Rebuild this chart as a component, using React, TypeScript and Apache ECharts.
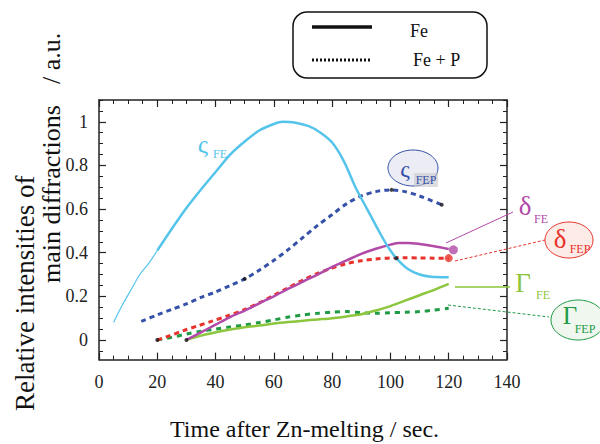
import React, { useEffect, useRef } from "react";
import * as echarts from "echarts";

// ---- data (x: seconds, y: relative intensity) ----
const cyanFEStart: number[][] = [[5, 0.08], [8, 0.16], [11, 0.23], [14, 0.3], [17, 0.35], [20, 0.41]];
const cyanFE: number[][] = [
  [20, 0.41], [25, 0.51], [30, 0.605], [35, 0.69], [40, 0.77], [45, 0.85], [50, 0.91], [55, 0.96],
  [60, 0.99], [63, 1.0], [67, 0.997], [72, 0.98], [76, 0.95], [80, 0.905], [84, 0.82], [88, 0.7],
  [92, 0.6], [96, 0.5], [99, 0.43], [102, 0.375], [106, 0.325], [110, 0.3], [114, 0.29], [120, 0.288],
];
const blueFEP: number[][] = [
  [14.5, 0.085], [20, 0.115], [25, 0.14], [30, 0.165], [35, 0.195], [40, 0.22], [45, 0.25], [50, 0.28],
  [55, 0.32], [60, 0.365], [65, 0.415], [70, 0.47], [75, 0.525], [80, 0.575], [85, 0.625], [90, 0.66],
  [95, 0.68], [100, 0.688], [105, 0.68], [110, 0.66], [117.5, 0.62],
];
const magentaFE: number[][] = [
  [30, 0], [35, 0.035], [40, 0.07], [45, 0.105], [50, 0.135], [55, 0.168], [60, 0.2], [65, 0.235],
  [70, 0.268], [75, 0.3], [80, 0.335], [85, 0.365], [90, 0.395], [95, 0.418], [100, 0.437], [103, 0.445],
  [106, 0.445], [110, 0.44], [115, 0.43], [120, 0.417],
];
const redFEP: number[][] = [
  [20, 0], [24, 0.018], [29, 0.043], [34, 0.065], [38.5, 0.085], [44, 0.11], [50, 0.14], [55, 0.17],
  [60, 0.205], [65, 0.24], [70, 0.275], [75, 0.305], [80, 0.33], [85, 0.35], [90, 0.363], [95, 0.371],
  [100, 0.376], [105, 0.377], [110, 0.376], [115, 0.375], [120, 0.375],
];
const greenFE: number[][] = [
  [30, 0], [35, 0.02], [40, 0.035], [45, 0.048], [50, 0.058], [55, 0.066], [60, 0.075], [65, 0.082],
  [70, 0.088], [75, 0.094], [80, 0.1], [85, 0.108], [90, 0.118], [95, 0.135], [100, 0.155], [105, 0.18],
  [110, 0.205], [115, 0.23], [120, 0.257],
];
const greenFEP: number[][] = [
  [20, 0], [25, 0.012], [30, 0.027], [35, 0.04], [40, 0.05], [45, 0.06], [50, 0.069], [55, 0.08],
  [60, 0.092], [65, 0.105], [70, 0.115], [75, 0.122], [80, 0.128], [85, 0.13], [90, 0.125], [95, 0.122],
  [100, 0.125], [105, 0.127], [110, 0.13], [115, 0.137], [120, 0.145],
];
const blackDots: number[][] = [[20, 0], [30, 0], [50, 0.28], [100.4, 0.688], [117.6, 0.62], [102, 0.375]];
const redEndDot: number[][] = [[120, 0.375]];
const magentaEndDot: number[][] = [[121.6, 0.413]];

const yLabelValues = [0, 0.2, 0.4, 0.6, 0.8, 1];
const yMinorValues = [-0.05, 0, 0.05, 0.1, 0.15, 0.2, 0.25, 0.3, 0.35, 0.4, 0.45, 0.5, 0.55, 0.6, 0.65, 0.7, 0.75, 0.8, 0.85, 0.9, 0.95, 1, 1.05, 1.1];

const SERIF = "Liberation Serif";
const C_CYAN = "#55c4ea";
const C_BLUE = "#3551a8";
const C_MAG = "#b24aa8";
const C_RED = "#e8322b";
const C_LGREEN = "#8cc63e";
const C_DGREEN = "#1f9a45";

function txt(text: string, x: number, y: number, size: number, color: string, align = "center", rotation = 0): any {
  return {
    type: "text",
    x,
    y,
    rotation,
    style: { text, fontFamily: SERIF, fontSize: size, fill: color, textAlign: align, textVerticalAlign: "middle" },
    z: 100,
  };
}

export default function App() {
  const ref = useRef<HTMLDivElement>(null);
  useEffect(() => {
    if (!ref.current) return;
    const chart = echarts.init(ref.current, undefined, { renderer: "svg" });
    const lineSeries = (data: number[][], color: string, width: number, type: any, z = 2) => ({
      type: "line",
      data,
      xAxisIndex: 0,
      yAxisIndex: 0,
      showSymbol: false,
      symbol: "none",
      smooth: 0.3,
      z,
      lineStyle: { color, width, type },
    });
    const yCommon = {
      type: "value",
      min: -0.09,
      max: 1.1,
      splitLine: { show: false },
    };
    const xCommon = {
      type: "value",
      min: 0,
      max: 140,
      interval: 20,
      axisTick: { inside: true, length: 7, lineStyle: { color: "#222", width: 1.2 } },
      minorTick: { show: true, splitNumber: 4, length: 4, lineStyle: { color: "#222", width: 1 } },
      splitLine: { show: false },
    };
    const option: any = {
      animation: false,
      backgroundColor: "#fff",
      textStyle: { fontFamily: SERIF },
      grid: { left: 99, right: 93, top: 100, bottom: 84.4, containLabel: false },
      xAxis: [
        {
          ...xCommon,
          position: "bottom",
          axisLine: { onZero: false, lineStyle: { color: "#222", width: 1.5 } },
          axisLabel: { fontFamily: SERIF, fontSize: 18, color: "#222", margin: 13 },
        },
        {
          ...xCommon,
          position: "top",
          axisLine: { onZero: false, lineStyle: { color: "#222", width: 1.5 } },
          axisLabel: { show: false },
        },
      ],
      yAxis: [
        {
          ...yCommon,
          position: "left",
          axisLine: { show: true, onZero: false, lineStyle: { color: "#222", width: 1.5 } },
          axisTick: { show: true, inside: true, length: 7, customValues: yLabelValues, lineStyle: { color: "#222", width: 1.2 } },
          axisLabel: { customValues: yLabelValues, fontFamily: SERIF, fontSize: 18, color: "#222", margin: 11 },
        },
        {
          ...yCommon,
          position: "right",
          axisLine: { show: true, onZero: false, lineStyle: { color: "#222", width: 1.5 } },
          axisTick: { show: true, inside: true, length: 7, customValues: yLabelValues, lineStyle: { color: "#222", width: 1.2 } },
          axisLabel: { show: false },
        },
        {
          ...yCommon,
          position: "left",
          axisLine: { show: false, onZero: false },
          axisTick: { show: true, inside: true, length: 4, customValues: yMinorValues, lineStyle: { color: "#222", width: 1 } },
          axisLabel: { show: false },
        },
        {
          ...yCommon,
          position: "right",
          axisLine: { show: false, onZero: false },
          axisTick: { show: true, inside: true, length: 4, customValues: yMinorValues, lineStyle: { color: "#222", width: 1 } },
          axisLabel: { show: false },
        },
      ],
      series: [
        lineSeries(greenFEP, C_DGREEN, 3, [5, 5]),
        lineSeries(greenFE, C_LGREEN, 2.5, "solid"),
        lineSeries(redFEP, C_RED, 3, [5, 4]),
        lineSeries(magentaFE, C_MAG, 2.5, "solid"),
        lineSeries(blueFEP, C_BLUE, 3, [5, 4]),
        lineSeries(cyanFEStart, C_CYAN, 1.2, "solid", 3),
        lineSeries(cyanFE, C_CYAN, 2.5, "solid", 3),
        { type: "scatter", data: blackDots, symbolSize: 4, itemStyle: { color: "#111" }, z: 5 },
        { type: "scatter", data: redEndDot, symbolSize: 8, itemStyle: { color: C_RED }, z: 5 },
        { type: "scatter", data: magentaEndDot, symbolSize: 9, itemStyle: { color: C_MAG }, z: 5 },
      ],
      graphic: [
        // legend box
        { type: "rect", shape: { x: 293, y: 12, width: 194, height: 66, r: 14 }, style: { fill: "#fff", stroke: "#111", lineWidth: 1.5 }, z: 90 },
        { type: "line", shape: { x1: 312, y1: 27, x2: 372, y2: 27 }, style: { stroke: "#111", lineWidth: 3.5 }, z: 100 },
        { type: "line", shape: { x1: 312, y1: 60, x2: 372, y2: 60 }, style: { stroke: "#111", lineWidth: 3, lineDash: [2, 2] }, z: 100 },
        txt("Fe", 410, 31, 18, "#111", "left"),
        txt("Fe + P", 413, 60, 18, "#111", "left"),
        // axis titles (anchored at their start, reading bottom to top)
        txt("Relative intensities of", 25, 411, 27, "#111", "left", Math.PI / 2),
        txt("main diffractions", 51, 283, 26, "#111", "left", Math.PI / 2),
        txt("/ a.u.", 51, 84, 26, "#111", "left", Math.PI / 2),
        txt("Time after Zn-melting / sec.", 170, 429, 24, "#111", "left"),
        // zeta FE
        txt("ς", 203, 144, 26, C_CYAN),
        txt("FE", 220, 154, 12, C_CYAN),
        // zeta FEP ellipse
        { type: "ellipse", shape: { cx: 413, cy: 168, rx: 25, ry: 18 }, style: { fill: "rgba(228,230,240,0.75)", stroke: C_BLUE, lineWidth: 1 }, z: 95 },
        { type: "rect", shape: { x: 414, y: 173, width: 24, height: 14 }, style: { fill: "rgba(200,200,205,0.6)" }, z: 96 },
        txt("ς", 405, 169, 24, C_BLUE),
        txt("FEP", 426, 180, 12, C_BLUE),
        // delta FE
        { type: "line", shape: { x1: 446, y1: 243, x2: 513, y2: 212 }, style: { stroke: C_MAG, lineWidth: 1 }, z: 95 },
        txt("δ", 525, 206, 27, C_MAG),
        txt("FE", 541, 219, 12, C_MAG),
        // delta FEP
        { type: "line", shape: { x1: 455, y1: 261, x2: 545, y2: 240 }, style: { stroke: C_RED, lineWidth: 1, lineDash: [3, 2] }, z: 95 },
        { type: "ellipse", shape: { cx: 569, cy: 240, rx: 24, ry: 18 }, style: { fill: "rgba(252,232,226,0.85)", stroke: C_RED, lineWidth: 1 }, z: 95 },
        txt("δ", 560, 239, 27, C_RED),
        txt("FEP", 580, 249, 12, C_RED),
        // Gamma FE
        { type: "line", shape: { x1: 455, y1: 287, x2: 510, y2: 287 }, style: { stroke: C_LGREEN, lineWidth: 1.5 }, z: 95 },
        txt("Γ", 523, 283, 27, C_LGREEN),
        txt("FE", 543, 295, 12, C_LGREEN),
        // Gamma FEP
        { type: "polyline", shape: { points: [[448, 305], [507, 312], [549, 317]] }, style: { stroke: C_DGREEN, lineWidth: 1, lineDash: [3, 2], fill: "none" }, z: 95 },
        { type: "ellipse", shape: { cx: 578, cy: 320, rx: 27, ry: 20 }, style: { fill: "rgba(236,246,236,0.85)", stroke: C_DGREEN, lineWidth: 1 }, z: 95 },
        txt("Γ", 570, 315, 25, C_DGREEN),
        txt("FEP", 585, 329, 12, C_DGREEN),
      ],
    };
    chart.setOption(option);
    return () => chart.dispose();
  }, []);
  return <div ref={ref} style={{ width: 600, height: 444, position: "absolute", left: 0, top: 0 }} />;
}
